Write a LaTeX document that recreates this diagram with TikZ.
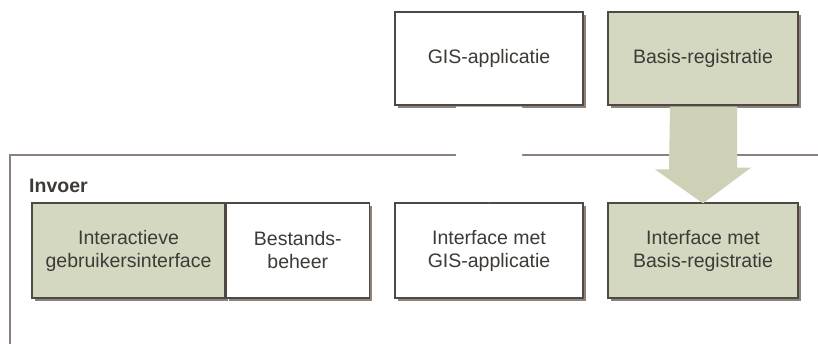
\documentclass[tikz,border=0pt]{standalone}
\usepackage{fontspec}
\setmainfont{Liberation Sans}
\definecolor{sage}{RGB}{212,216,192}
\definecolor{arrowsage}{RGB}{206,209,182}
\definecolor{edge}{RGB}{80,72,66}
\definecolor{shade}{RGB}{140,132,124}
\definecolor{framecol}{RGB}{140,128,124}
\definecolor{txt}{RGB}{62,58,54}
\tikzset{
  box/.style={draw=edge, line width=1.3pt, inner sep=2pt, align=center,
    text=txt, font=\fontsize{19.5}{23}\selectfont,
    preaction={fill=shade, transform canvas={shift={(3pt,-3pt)}}}},
  plain/.style={box, fill=white},
  tinted/.style={box, fill=sage},
  heading/.style={text=txt, font=\bfseries\fontsize{19.5}{22}\selectfont, inner sep=0pt},
  frameline/.style={draw=framecol, line width=1.3pt}
}
\begin{document}
\begin{tikzpicture}[x=1pt,y=-1pt]
  \clip (0,0) rectangle (818,343);
  \fill[white] (0,0) rectangle (818,343);

  % outer "Invoer" frame, running off the page to the right and bottom
  \coordinate (fbl) at (10,360);
  \coordinate (ftl) at (10,155);
  \coordinate (ftr) at (830,155);
  \draw[frameline] (fbl) -- (ftl) -- (ftr);
  \node[heading, anchor=base west] (invoer) at (29,192) {Invoer};

  % external systems
  \node[plain, minimum width=188pt, minimum height=93pt] (gis) at (489,58.5) {GIS-applicatie};
  \node[tinted, minimum width=190pt, minimum height=93pt] (basis) at (703,58.5) {Basis-registratie};

  % components inside the frame
  \node[tinted, minimum width=193pt, minimum height=95pt] (gui) at (128.5,250.5) {Interactieve\\gebruikersinterface};
  \node[plain, minimum width=143pt, minimum height=95pt, anchor=west] (beheer) at (gui.east) {Bestands-\\beheer};
  \draw[edge, line width=1.3pt] (gui.north east) -- (gui.south east);
  \node[plain, minimum width=188pt, minimum height=95pt] (igis) at (489,250.5) {Interface met\\GIS-applicatie};
  \node[tinted, minimum width=190pt, minimum height=95pt] (ibasis) at (703,250.5) {Interface met\\Basis-registratie};

  % block arrows: white one for the GIS link, tinted one for the registry
  \fill[white] ([xshift=-33pt,yshift=-1pt]gis.south) -- ++(66,0) -- ++(0,61)
     -- ++(15,0) -- (igis.north) -- ++(-48,-35) -- ++(15,0) -- cycle;
  \fill[arrowsage] ([xshift=-33pt,yshift=-1pt]basis.south) -- ++(67,0) -- ++(0,61)
     -- ++(14,0) -- ([yshift=-1pt]ibasis.north) -- ++(-48,-34) -- ++(14,0) -- cycle;
\end{tikzpicture}
\end{document}
